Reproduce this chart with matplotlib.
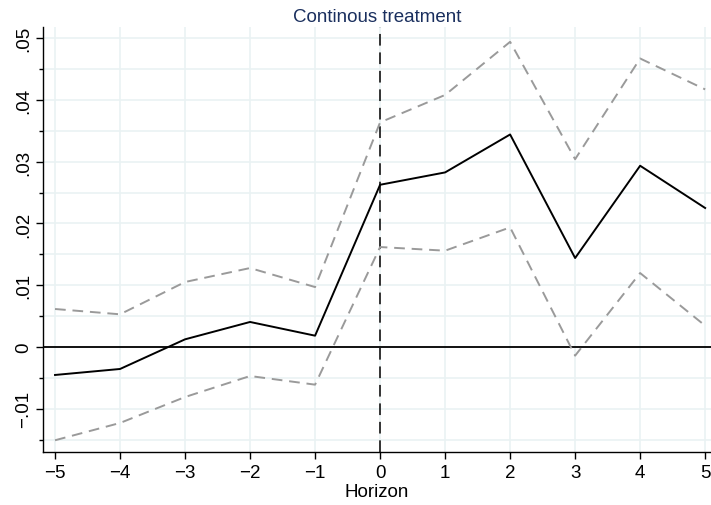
import matplotlib.pyplot as plt
from matplotlib.ticker import FixedLocator, FuncFormatter

plt.rcParams['font.family'] = ['Liberation Sans', 'DejaVu Sans']

# horizon and estimates
horizon = [-5, -4, -3, -2, -1, 0, 1, 2, 3, 4, 5]
coef = [-0.00453, -0.00356, 0.00124, 0.00405, 0.00183, 0.02626, 0.02826, 0.0344, 0.0144, 0.02934, 0.0225]
upper = [0.00615, 0.00529, 0.01052, 0.01278, 0.0097, 0.03636, 0.0408, 0.0494, 0.0304, 0.0467, 0.0417]
lower = [-0.0151, -0.0123, -0.0081, -0.0047, -0.0061, 0.01618, 0.01559, 0.01936, -0.0014, 0.01197, 0.00345]

y_major = [-0.01, 0, 0.01, 0.02, 0.03, 0.04, 0.05]
y_minor = [-0.015, -0.005, 0.005, 0.015, 0.025, 0.035, 0.045]

fig = plt.figure(figsize=(7.11, 5.06), dpi=100)
ax = fig.add_axes([43 / 711, 53 / 506, 668 / 711, 425 / 506])

grid_col = '#eaf2f3'
for v in y_major + y_minor:
    ax.axhline(v, color=grid_col, lw=1.2, zorder=0)
for h in horizon:
    ax.axvline(h, color=grid_col, lw=1.2, zorder=0)

ax.axhline(0, color='black', lw=1.3, zorder=2)
ax.axvline(0, color='#333333', lw=1.4, dashes=(6, 3.5), zorder=2)

ax.plot(horizon, upper, color='#9a9a9a', lw=1.4, dashes=(5.5, 3.5), zorder=3)
ax.plot(horizon, lower, color='#9a9a9a', lw=1.4, dashes=(5.5, 3.5), zorder=3)
ax.plot(horizon, coef, color='black', lw=1.4, zorder=4)

ax.set_xlim(-5.185, 5.09)
ax.set_ylim(-0.0170, 0.0518)

ax.set_xticks(horizon)
ax.set_xticklabels([str(h).replace('-', '\u2212') for h in horizon])
ax.yaxis.set_major_locator(FixedLocator(y_major))
ax.yaxis.set_minor_locator(FixedLocator(y_minor))


def fmt(v, pos):
    if abs(v) < 1e-12:
        return '0'
    s = ('%.2f' % v).replace('0.', '.')
    return s.replace('-', '\u2212')


ax.yaxis.set_major_formatter(FuncFormatter(fmt))
ax.tick_params(axis='both', which='major', length=5, width=1, labelsize=13.5, color='black')
ax.tick_params(axis='y', which='minor', length=3, width=1, color='black')
ax.tick_params(axis='x', pad=4)
ax.tick_params(axis='y', pad=3)
for lab in ax.get_yticklabels():
    lab.set_rotation(90)
    lab.set_va('center')

for side in ['top', 'right']:
    ax.spines[side].set_visible(False)
ax.spines['left'].set_linewidth(1)
ax.spines['bottom'].set_linewidth(1)

ax.set_xlabel('Horizon', fontsize=13.5, labelpad=1)
ax.set_title('Continous treatment', fontsize=13.5, color='#1a2f5e', pad=4)

plt.savefig('out.png', dpi=100)
